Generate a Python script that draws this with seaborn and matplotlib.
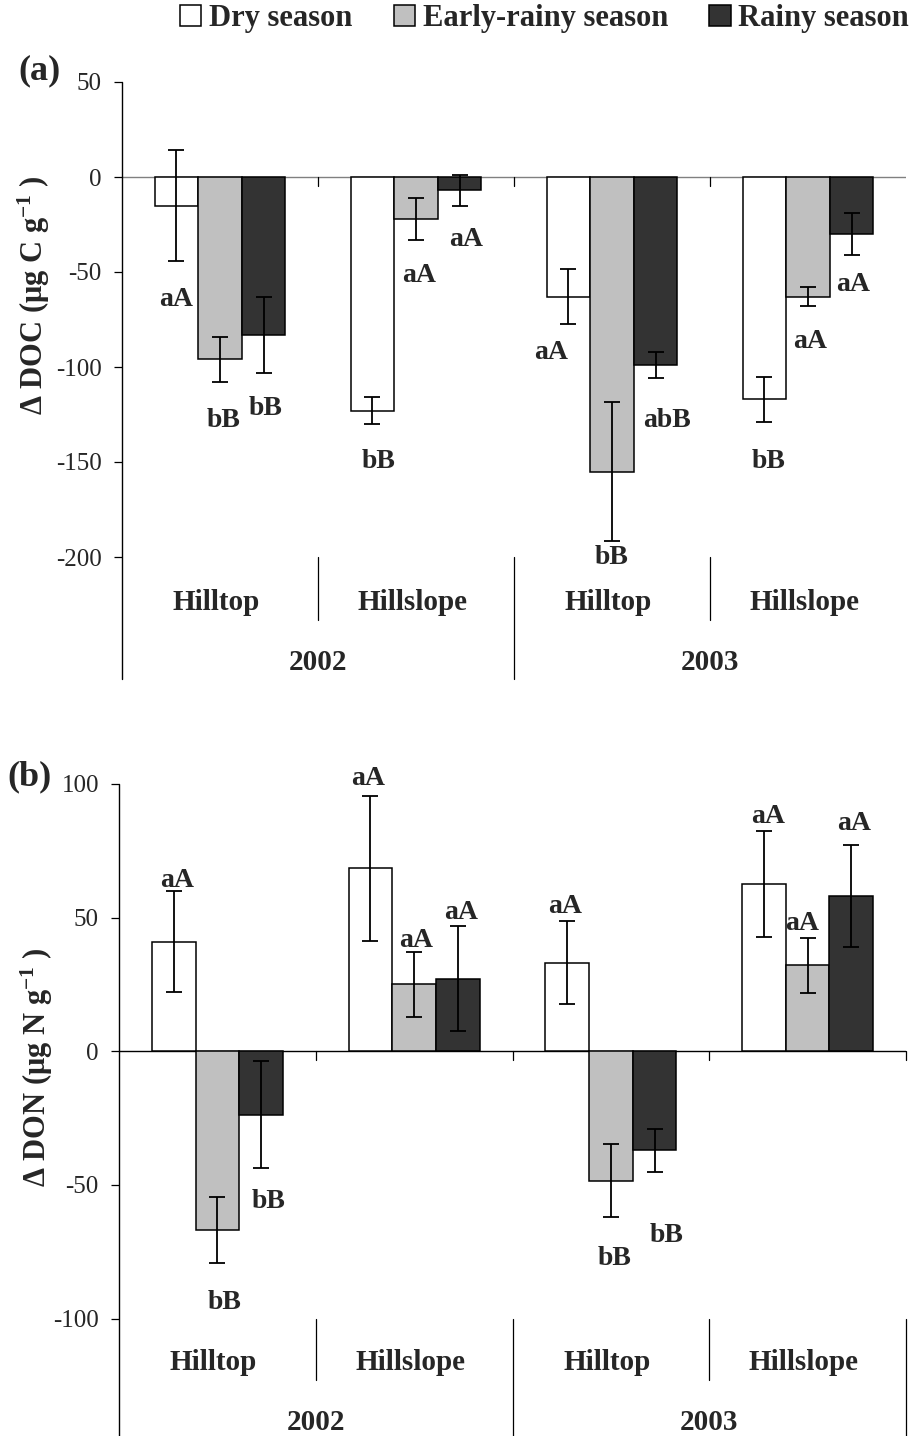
import matplotlib
matplotlib.use("Agg")
import matplotlib.pyplot as plt
import matplotlib.patches as mpatches
import seaborn as sns
import pandas as pd

# ---------------- data ----------------
sites = ["Hilltop", "Hillslope", "Hilltop", "Hillslope"]
years = ["2002", "2003"]
site_keys = ["2002 Hilltop", "2002 Hillslope", "2003 Hilltop", "2003 Hillslope"]
seasons = ["Dry season", "Early-rainy season", "Rainy season"]
colors = ["#FFFFFF", "#C0C0C0", "#333333"]

# Delta DOC (ug C g-1): rows = site_keys, cols = seasons
doc_dry = [-15, -123, -63, -117]
doc_early = [-96, -22, -155, -63]
doc_rainy = [-83, -7, -99, -30]
doc_err_dry = [29, 7, 14.5, 12]
doc_err_early = [12, 11, 36.5, 5]
doc_err_rainy = [20, 8, 7, 11]
doc_letters_dry = ["aA", "bB", "aA", "bB"]
doc_letters_early = ["bB", "aA", "bB", "aA"]
doc_letters_rainy = ["bB", "aA", "abB", "aA"]

# Delta DON (ug N g-1)
don_dry = [41, 68.4, 33.2, 62.5]
don_early = [-66.8, 25, -48.5, 32.2]
don_rainy = [-23.7, 27.2, -37.1, 58]
don_err_dry = [19, 27, 15.5, 19.9]
don_err_early = [12.3, 12, 13.7, 10.3]
don_err_rainy = [20, 19.7, 8.1, 19]
don_letters_dry = ["aA", "aA", "aA", "aA"]
don_letters_early = ["bB", "aA", "bB", "aA"]
don_letters_rainy = ["bB", "aA", "bB", "aA"]

# label placement (y in data units, dx in category units)
doc_lab_y = [[-64.7, -150, -92.6, -150], [-128, -51.6, -200, -86.8], [-122, -33, -128, -56.8]]
doc_lab_dx = [[0, 0.03, -0.09, 0.02], [0.02, 0.015, 0, 0.01], [0.01, 0.035, 0.06, 0.01]]
don_lab_y = [[63.8, 101.9, 54, 87.8], [-93.9, 41.6, -77.5, 47.9], [-56.4, 52, -68.9, 85.3]]
don_lab_dx = [[0.02, -0.01, -0.01, 0.02], [0.035, 0.01, 0.02, -0.03], [0.04, 0.015, 0.06, 0.015]]

# ---------------- style ----------------
sns.set_theme(style="white")
plt.rcParams["font.family"] = ["Liberation Serif", "DejaVu Serif"]
plt.rcParams["mathtext.fontset"] = "custom"
plt.rcParams["mathtext.rm"] = "Liberation Serif"
plt.rcParams["mathtext.bf"] = "Liberation Serif:bold"
plt.rcParams["mathtext.it"] = "Liberation Serif:italic"

W, H = 909, 1436
fig = plt.figure(figsize=(W / 100, H / 100), dpi=100)


def make_long(dry, early, rainy):
    rows = []
    for vals, s in zip([dry, early, rainy], seasons):
        for k, v in zip(site_keys, vals):
            rows.append({"site": k, "season": s, "value": v})
    return pd.DataFrame(rows)


def panel(left, right, top, bottom, ymin, ymax, ticks, vals, errs, letters,
          lab_y, lab_dx, zero_color, inner_bot, outer_bot, lab1_y, lab2_y,
          right_line):
    ax = fig.add_axes([left / W, 1 - bottom / H, (right - left) / W, (bottom - top) / H])
    hpx = bottom - top
    df = make_long(*vals)
    sns.barplot(data=df, x="site", y="value", hue="season", order=site_keys,
                hue_order=seasons, palette=colors, saturation=1, width=0.667,
                edgecolor="black", linewidth=1.1, errorbar=None, legend=False,
                ax=ax, zorder=2)
    ax.set_xlim(-0.5, 3.5)
    ax.set_ylim(ymin, ymax)
    ax.set_xlabel("")
    ax.set_ylabel("")
    ax.set_xticks([])
    ax.set_yticks(ticks)
    ax.set_yticklabels([str(t) for t in ticks], fontsize=18)
    ax.tick_params(axis="y", direction="out", length=5.5, width=0.9, color="black",
                   left=True, pad=9)
    for sp in ax.spines.values():
        sp.set_visible(False)
    ax.set_facecolor("none")
    ax.axhline(0, color=zero_color, lw=1.0, zorder=1)

    # error bars and letters
    conts = list(ax.containers)
    for ci, cont in enumerate(conts):
        for bi, bar in enumerate(cont.patches):
            x = bar.get_x() + bar.get_width() / 2
            y = bar.get_y() + bar.get_height()
            ax.errorbar(x, y, yerr=errs[ci][bi], fmt="none", ecolor="black",
                        elinewidth=1.3, capsize=6, capthick=1.3, zorder=3)
            ax.text(x + lab_dx[ci][bi], lab_y[ci][bi], letters[ci][bi],
                    fontsize=20, fontweight="bold", ha="center", va="center",
                    zorder=4)

    # little ticks on zero line at group boundaries
    unit = (ymax - ymin) / hpx
    bounds = [0.5, 1.5, 2.5] + ([3.5] if right_line else [])
    for xb in bounds:
        ax.plot([xb, xb], [0, -9 * unit], color="black", lw=0.9, zorder=1,
                clip_on=False)

    tr = ax.get_xaxis_transform()
    ib = -(inner_bot - bottom) / hpx
    ob = -(outer_bot - bottom) / hpx
    # y axis line (extends through category area)
    ax.plot([-0.5, -0.5], [1, ob], transform=tr, color="black", lw=1.0, clip_on=False)
    for xb in [0.5, 2.5]:
        ax.plot([xb, xb], [0, ib], transform=tr, color="black", lw=0.9, clip_on=False)
    ax.plot([1.5, 1.5], [0, ob], transform=tr, color="black", lw=0.9, clip_on=False)
    if right_line:
        ax.plot([3.5, 3.5], [0, ob], transform=tr, color="black", lw=0.9, clip_on=False)
    l1 = -(lab1_y - bottom) / hpx
    l2 = -(lab2_y - bottom) / hpx
    for i, s in enumerate(sites):
        ax.text(i - 0.02, l1, s, transform=tr, ha="center", va="center", fontsize=21,
                fontweight="bold")
    for i, yv in enumerate(years):
        ax.text(0.5 + 2 * i, l2, yv, transform=tr, ha="center", va="center",
                fontsize=21, fontweight="bold")
    return ax


panel(122, 906, 82, 557, -200, 50, [50, 0, -50, -100, -150, -200],
      [doc_dry, doc_early, doc_rainy],
      [doc_err_dry, doc_err_early, doc_err_rainy],
      [doc_letters_dry, doc_letters_early, doc_letters_rainy],
      doc_lab_y, doc_lab_dx, "#808080", 620, 679, 603, 662, False)

panel(119, 906, 784, 1318.5, -100, 100, [100, 50, 0, -50, -100],
      [don_dry, don_early, don_rainy],
      [don_err_dry, don_err_early, don_err_rainy],
      [don_letters_dry, don_letters_early, don_letters_rainy],
      don_lab_y, don_lab_dx, "black", 1380, 1436, 1363, 1422, True)

# axis titles and panel labels
fig.text(34 / W, 1 - 295 / H, r"Δ DOC (μg C g$^{\mathbf{-1}}$ )", rotation=90,
         ha="center", va="center", fontsize=22, fontweight="bold")
fig.text(37 / W, 1 - 1067 / H, r"Δ DON (μg N g$^{\mathbf{-1}}$ )", rotation=90,
         ha="center", va="center", fontsize=22, fontweight="bold")
fig.text(40 / W, 1 - 71 / H, "(a)", ha="center", va="center", fontsize=26,
         fontweight="bold")
fig.text(30 / W, 1 - 777 / H, "(b)", ha="center", va="center", fontsize=26,
         fontweight="bold")

# legend
handles = [mpatches.Patch(facecolor=c, edgecolor="black", linewidth=1.1) for c in colors]
fig.legend(handles, seasons, loc="upper left", bbox_to_anchor=(180 / W, 1 - 4 / H),
           ncol=3, frameon=False, prop={"size": 22, "weight": "bold"},
           handlelength=0.7, handleheight=0.7, handletextpad=0.25,
           columnspacing=1.35, borderpad=0, borderaxespad=0)

fig.savefig("out.png", dpi=100)
